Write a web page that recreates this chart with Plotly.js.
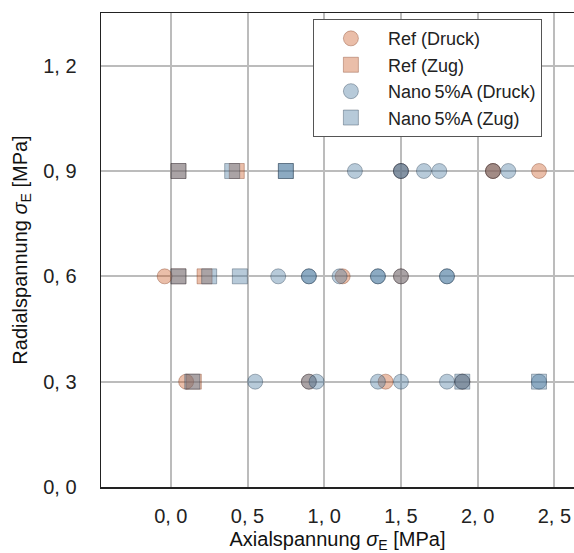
<!DOCTYPE html>
<html>
<head>
<meta charset="utf-8">
<script src="https://cdn.plot.ly/plotly-3.0.1.min.js"></script>
<style>html,body{margin:0;padding:0;background:#fff;}#chart{width:574px;height:553px;}</style>
</head>
<body>
<div id="chart"></div>
<script>
// Ref (Druck) - circles
const refDruckX = [1.5, 2.1, 2.1, 2.4, -0.04, 1.12, 1.5, 0.10, 0.9, 1.40, 1.9];
const refDruckY = [0.9, 0.9, 0.9, 0.9, 0.6, 0.6, 0.6, 0.3, 0.3, 0.3, 0.3];
// Ref (Zug) - squares
const refZugX = [0.05, 0.43, 0.05, 0.22, 0.15];
const refZugY = [0.9, 0.9, 0.6, 0.6, 0.3];
// Nano 5%A (Druck) - circles
const nanoDruckX = [1.2, 1.5, 1.5, 1.65, 1.75, 2.1, 2.2,
                    0.7, 0.9, 0.9, 1.10, 1.35, 1.35, 1.5, 1.8, 1.8,
                    0.55, 0.9, 0.95, 1.35, 1.5, 1.8, 1.9, 2.4];
const nanoDruckY = [0.9, 0.9, 0.9, 0.9, 0.9, 0.9, 0.9,
                    0.6, 0.6, 0.6, 0.6, 0.6, 0.6, 0.6, 0.6, 0.6,
                    0.3, 0.3, 0.3, 0.3, 0.3, 0.3, 0.3, 0.3];
// Nano 5%A (Zug) - squares
const nanoZugX = [0.05, 0.40, 0.75, 0.75, 0.05, 0.25, 0.45, 0.14, 1.9, 2.4];
const nanoZugY = [0.9, 0.9, 0.9, 0.9, 0.6, 0.6, 0.6, 0.3, 0.3, 0.3];

const xTickVals = [0.0, 0.5, 1.0, 1.5, 2.0, 2.5];
const xTickText = ["0, 0", "0, 5", "1, 0", "1, 5", "2, 0", "2, 5"];
const yTickVals = [0.0, 0.3, 0.6, 0.9, 1.2];
const yTickText = ["0, 0", "0, 3", "0, 6", "0, 9", "1, 2"];

const seriesNames = ["Ref (Druck)", "Ref (Zug)", "Nano\u20095%A (Druck)", "Nano\u20095%A (Zug)"];

const orangeFill = "rgba(200,85,30,0.38)";
const orangeLine = "rgba(120,50,20,0.35)";
const blueFill = "rgba(75,122,160,0.40)";
const blueLine = "rgba(30,50,70,0.35)";

function mk(x, y, name, symbol, fill, line) {
  return {
    x: x, y: y, name: name, type: "scatter", mode: "markers",
    marker: {symbol: symbol, size: 15, color: fill, line: {color: line, width: 1}},
    cliponaxis: false
  };
}

const data = [
  mk(refDruckX, refDruckY, seriesNames[0], "circle", orangeFill, orangeLine),
  mk(refZugX, refZugY, seriesNames[1], "square", orangeFill, orangeLine),
  mk(nanoDruckX, nanoDruckY, seriesNames[2], "circle", blueFill, blueLine),
  mk(nanoZugX, nanoZugY, seriesNames[3], "square", blueFill, blueLine)
];

const FAM = "Liberation Sans, Arial, sans-serif";

const layout = {
  width: 574, height: 553,
  margin: {l: 101, r: 0, t: 13, b: 65.5, pad: 0},
  paper_bgcolor: "#fff", plot_bgcolor: "#fff",
  font: {family: FAM, size: 20, color: "#222"},
  showlegend: true,
  legend: {
    x: 0.448, y: 0.987, xanchor: "left", yanchor: "top",
    bgcolor: "#fff", bordercolor: "#555", borderwidth: 1,
    font: {family: FAM, size: 18, color: "#222"},
    itemwidth: 64, tracegroupgap: 0
  },
  xaxis: {
    range: [-0.455, 2.628],
    tickvals: xTickVals, ticktext: xTickText,
    showgrid: true, gridcolor: "#bcbcbc", gridwidth: 2,
    zeroline: false,
    showline: true, linecolor: "#222", linewidth: 1.5, mirror: true,
    ticks: "", ticklabelstandoff: 10,
    tickfont: {family: FAM, size: 20, color: "#222"},
    title: {text: "Axialspannung <i>σ</i><sub>E</sub> [MPa]", standoff: 7,
            font: {family: FAM, size: 20, color: "#111"}}
  },
  yaxis: {
    range: [0, 1.35],
    tickvals: yTickVals, ticktext: yTickText,
    showgrid: true, gridcolor: "#bcbcbc", gridwidth: 2,
    zeroline: false,
    showline: true, linecolor: "#222", linewidth: 1.5, mirror: false,
    ticks: "", ticklabelstandoff: 19,
    tickfont: {family: FAM, size: 20, color: "#222"},
    title: {text: "Radialspannung <i>σ</i><sub>E</sub> [MPa]", standoff: 10,
            font: {family: FAM, size: 20, color: "#111"}}
  }
};

Plotly.newPlot("chart", data, layout, {staticPlot: true, displayModeBar: false});
</script>
</body>
</html>
